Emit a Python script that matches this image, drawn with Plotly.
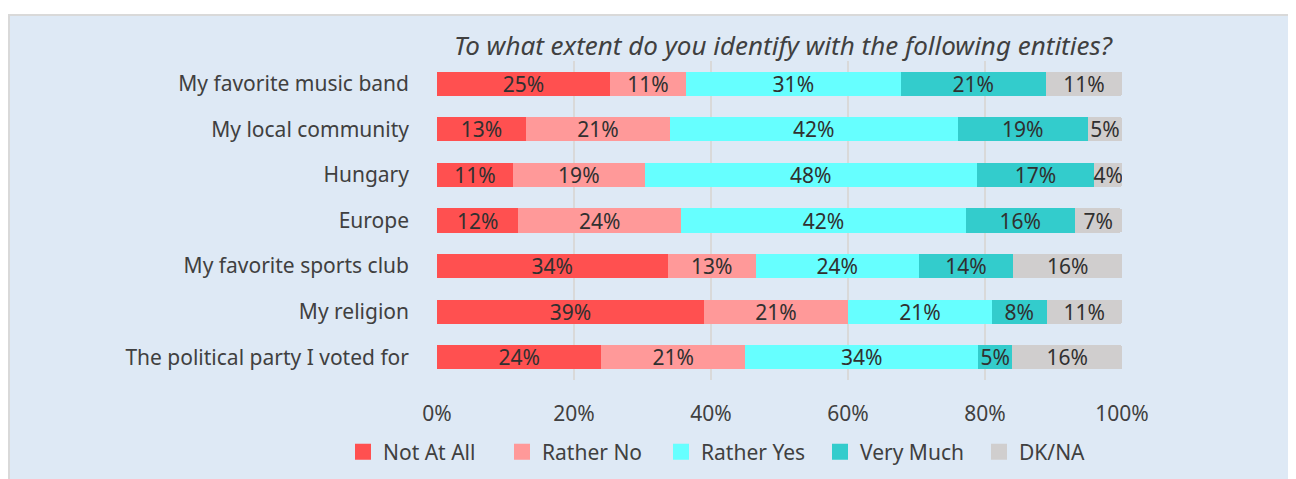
import plotly.graph_objects as go

categories = ["My favorite music band", "My local community", "Hungary", "Europe",
              "My favorite sports club", "My religion", "The political party I voted for"]
series_names = ["Not At All", "Rather No", "Rather Yes", "Very Much", "DK/NA"]
not_at_all = [25, 13, 11, 12, 34, 39, 24]
rather_no = [11, 21, 19, 24, 13, 21, 21]
rather_yes = [31, 42, 48, 42, 24, 21, 34]
very_much = [21, 19, 17, 16, 14, 8, 5]
dk_na = [11, 5, 4, 7, 16, 11, 16]
colors = ["#FF5050", "#FF9999", "#66FFFF", "#33CCCC", "#D0CECE"]
tick_vals = [0, 20, 40, 60, 80, 100]
tick_text = ["0%", "20%", "40%", "60%", "80%", "100%"]
title_text = "To what extent do you identify with the following entities?"

# page has an 8px body margin; figure coords = page coords - 8
OFF = 8
W, H = 1296 - OFF, 479 - OFF
PL, PR, PT, PB = 437 - OFF, 1122 - OFF, 61 - OFF, 380 - OFF
ML, MR, MT, MB = PL, W - PR, PT, H - PB
PW, PH = W - ML - MR, H - MT - MB

def fx(page_x):
    return (page_x - OFF - ML) / PW

def fy(page_y):
    return (H - MB - (page_y - OFF)) / PH

FONT = "Noto Sans"
TXT = "#404040"
fig = go.Figure()
for name, vals, col in zip(series_names, [not_at_all, rather_no, rather_yes, very_much, dk_na], colors):
    fig.add_trace(go.Bar(
        name=name, y=categories, x=vals, orientation="h",
        marker=dict(color=col, line=dict(width=0), cornerradius=2),
        text=vals, texttemplate="%{text}%", textposition="inside",
        insidetextanchor="middle", constraintext="none",
        textfont=dict(family=FONT, size=21, color="#303030"),
        hoverinfo="skip", showlegend=False, legendgroup=name,
    ))
# legend-only entries with larger square swatches
for name, col in zip(series_names, colors):
    fig.add_trace(go.Scatter(
        name=name, x=[None], y=[None], mode="markers", legendgroup=name,
        marker=dict(symbol="square", size=16, color=col, line=dict(width=0)),
        showlegend=True, hoverinfo="skip",
    ))

fig.update_layout(
    width=W, height=H,
    barmode="stack", barnorm="percent", bargap=0.47,
    margin=dict(l=ML, r=MR, t=MT, b=MB, pad=0, autoexpand=False),
    paper_bgcolor="white", plot_bgcolor="rgba(0,0,0,0)",
    font=dict(family=FONT, size=21, color=TXT),
    uniformtext=dict(mode="show", minsize=21),
    showlegend=True,
    legend=dict(orientation="h", x=fx(343), xanchor="left", y=fy(452), yanchor="middle",
                font=dict(family=FONT, size=21, color=TXT),
                bgcolor="rgba(0,0,0,0)", itemwidth=30, traceorder="normal",
                entrywidth=114, entrywidthmode="pixels", itemsizing="trace"),
    xaxis=dict(range=[0, 100], tickvals=tick_vals, ticktext=tick_text,
               showgrid=True, gridcolor="#D9D9D9", gridwidth=2, zeroline=False,
               showline=False, ticks="", ticklabelstandoff=19,
               tickfont=dict(family=FONT, size=21, color=TXT), fixedrange=True),
    yaxis=dict(categoryorder="array", categoryarray=categories, autorange="reversed",
               showgrid=False, zeroline=False, showline=False, ticks="",
               ticklabelstandoff=27,
               tickfont=dict(family=FONT, size=21, color=TXT)),
    annotations=[dict(text="<i>" + title_text + "</i>", xref="paper", yref="paper",
                      x=fx(783), y=fy(45), xanchor="center",
                      yanchor="middle", showarrow=False,
                      font=dict(family=FONT, size=26, color=TXT))],
    shapes=[dict(type="rect", xref="paper", yref="paper", layer="below",
                 x0=fx(9), x1=fx(1296 + 10),
                 y0=fy(479 + 10), y1=fy(15),
                 fillcolor="#DEE9F5", line=dict(color="#D9D9D9", width=2))],
)
fig.write_html("out.html")
